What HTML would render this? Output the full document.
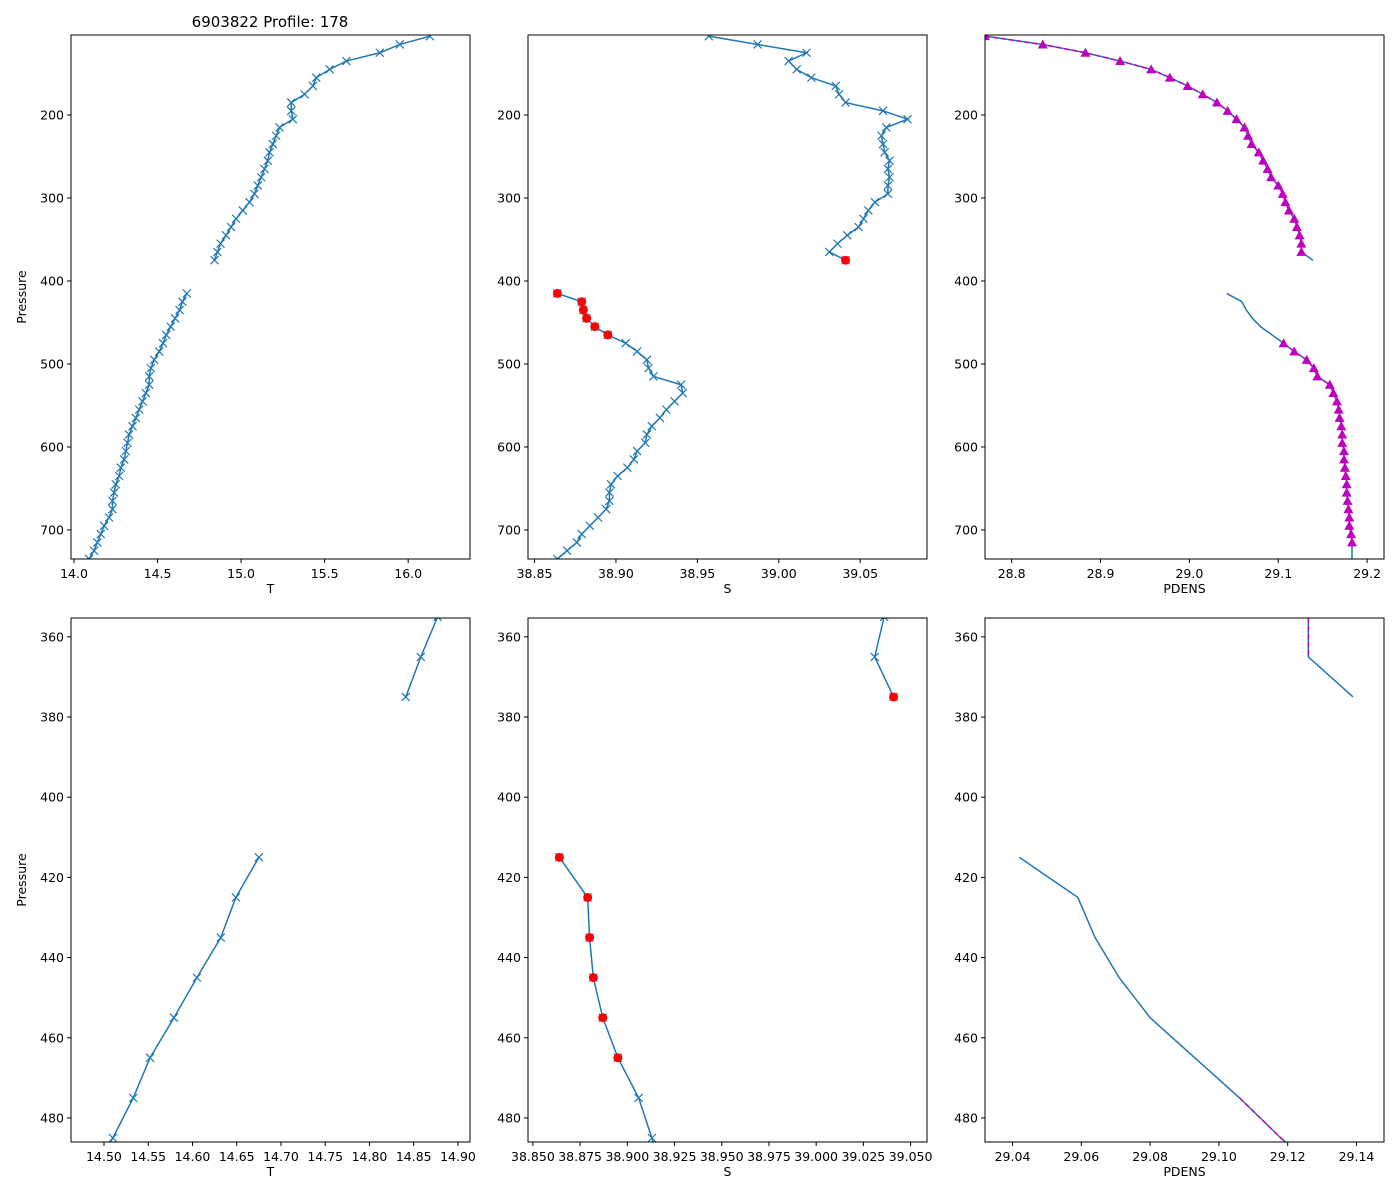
<!DOCTYPE html>
<html><head><meta charset="utf-8"><style>
html,body{margin:0;padding:0;background:#fff;overflow:hidden;width:1400px;height:1200px;font-family:"Liberation Sans","DejaVu Sans",sans-serif;}
svg{display:block;}
svg text{font-family:"DejaVu Sans","Liberation Sans",sans-serif;}
</style></head><body>
<svg id="fig" width="1400" height="1200" xmlns="http://www.w3.org/2000/svg">
<rect width="1400" height="1200" fill="#fff"/>
<text x="270" y="27" font-size="15" text-anchor="middle">6903822 Profile: 178</text>
</svg>
<script>
const pres1 = [105,115,125,135,145,155,165,175,185,195,205,215,225,235,245,255,265,275,285,295,305,315,325,335,345,355,365,375];
const pres2 = [415,425,435,445,455,465,475,485,495,505,515,525,535,545,555,565,575,585,595,605,615,625,635,645,655,665,675,685,695,705,715,725,735];
const temp1 = [16.13,15.95,15.83,15.63,15.53,15.45,15.43,15.38,15.30,15.30,15.31,15.23,15.21,15.19,15.17,15.16,15.14,15.12,15.10,15.08,15.05,15.01,14.97,14.94,14.91,14.877,14.858,14.841];
const temp2 = [14.675,14.649,14.632,14.605,14.579,14.552,14.533,14.51,14.48,14.46,14.45,14.45,14.43,14.41,14.39,14.37,14.35,14.33,14.32,14.31,14.30,14.28,14.27,14.25,14.24,14.23,14.23,14.21,14.18,14.16,14.14,14.12,14.09];
const sal1 = [38.957,38.987,39.017,39.006,39.011,39.020,39.035,39.037,39.041,39.064,39.079,39.066,39.063,39.064,39.065,39.068,39.067,39.068,39.067,39.067,39.059,39.055,39.052,39.049,39.042,39.036,39.031,39.041];
const sal2 = [38.864,38.879,38.880,38.882,38.887,38.895,38.906,38.913,38.919,38.920,38.923,38.940,38.941,38.936,38.931,38.927,38.922,38.919,38.918,38.913,38.911,38.907,38.901,38.897,38.896,38.896,38.894,38.889,38.884,38.879,38.876,38.870,38.864];
const pdens1 = [28.77,28.835,28.883,28.922,28.957,28.978,28.998,29.015,29.031,29.043,29.053,29.062,29.066,29.070,29.078,29.083,29.088,29.092,29.100,29.105,29.108,29.112,29.118,29.121,29.124,29.126,29.126,29.139];
const pdens2 = [29.042,29.059,29.064,29.071,29.080,29.093,29.106,29.118,29.132,29.140,29.144,29.158,29.162,29.166,29.168,29.169,29.171,29.172,29.172,29.174,29.174,29.175,29.176,29.177,29.177,29.178,29.179,29.180,29.180,29.182,29.183,29.183,29.183];
const redPres = [375,415,425,435,445,455,465];
const magentaRange1 = [105,365];
const magentaRange2 = [475,715];
const ticksTopY = [200,300,400,500,600,700];
const ticksBotY = [360,380,400,420,440,460,480];
const ticksT1 = [14.0,14.5,15.0,15.5,16.0];
const ticksS1 = [38.85,38.90,38.95,39.00,39.05];
const ticksD1 = [28.8,28.9,29.0,29.1,29.2];
const ticksT2 = [14.50,14.55,14.60,14.65,14.70,14.75,14.80,14.85,14.90];
const ticksS2 = [38.850,38.875,38.900,38.925,38.950,38.975,39.000,39.025,39.050];
const ticksD2 = [29.04,29.06,29.08,29.10,29.12,29.14];

const NS="http://www.w3.org/2000/svg";
const fig=document.getElementById('fig');
function mk(tag,attrs,parent){const e=document.createElementNS(NS,tag);for(const k in attrs)e.setAttribute(k,attrs[k]);(parent||fig).appendChild(e);return e;}
const BLUE="#1f77b4";
// clip a polyline (pressure, value) to [pmin,pmax] in pressure
function clipLine(P,V,pmin,pmax){
  const out=[];
  for(let i=0;i<P.length;i++){
    const inside=P[i]>=pmin&&P[i]<=pmax;
    if(i>0){
      const pa=P[i-1],pb=P[i],va=V[i-1],vb=V[i];
      [pmin,pmax].forEach(b=>{
        if((pa-b)*(pb-b)<0){const t=(b-pa)/(pb-pa);out.push([b,va+t*(vb-va)]);}
      });
    }
    if(inside)out.push([P[i],V[i]]);
  }
  return out;
}
function panel(cfg){
  const g=mk('g',{});
  
  
  const {x0,x1,y0,y1,xmin,xmax,pmin,pmax}=cfg;
  const X=v=>x0+(v-xmin)/(xmax-xmin)*(x1-x0);
  const Y=p=>y0+(p-pmin)/(pmax-pmin)*(y1-y0);
  const cid='clip'+cfg.name;
  const cp=mk('clipPath',{id:cid},g);mk('rect',{x:x0,y:y0,width:x1-x0,height:y1-y0},cp);
  const plot=mk('g',{'clip-path':'url(#'+cid+')'},g);
  const segs=[[pres1,cfg.v1],[pres2,cfg.v2]];
  const inR=p=>p>=pmin-2&&p<=pmax+2;
  segs.forEach(([P,V],si)=>{
    const pts=clipLine(P,V,pmin,pmax);
    if(pts.length>1){
      const pl=mk('polyline',{points:pts.map(q=>X(q[1])+','+Y(q[0])).join(' '),fill:'none',stroke:BLUE,'stroke-width':1.5},plot);
      
      
    }
    if(cfg.xmark){P.forEach((p,i)=>{if(!inR(p))return;const cx=X(V[i]),cy=Y(p),s=4;
      const m=mk('path',{d:`M${cx-s},${cy-s}L${cx+s},${cy+s}M${cx-s},${cy+s}L${cx+s},${cy-s}`,stroke:BLUE,'stroke-width':1.2,fill:'none'},plot);
      
      });}
    if(cfg.magenta){
      const r=si===0?magentaRange1:magentaRange2;
      const idx=P.map((p,i)=>i).filter(i=>P[i]>=r[0]&&P[i]<=r[1]);
      const mp=clipLine(idx.map(i=>P[i]),idx.map(i=>V[i]),pmin,pmax);
      if(mp.length>1){
        const ml=mk('polyline',{points:mp.map(q=>X(q[1])+','+Y(q[0])).join(' '),fill:'none',stroke:'#c000c0','stroke-width':1.5,'stroke-dasharray':'5,3'},plot);
        
        
      }
      if(cfg.tri){idx.forEach(i=>{if(!inR(P[i]))return;const cx=X(V[i]),cy=Y(P[i]);
        const t=mk('path',{d:`M${cx},${cy-5}L${cx+5},${cy+4}L${cx-5},${cy+4}Z`,fill:'#c000c0'},plot);
        
        });}
    }
    if(cfg.red){P.forEach((p,i)=>{if(redPres.includes(p)&&inR(p)){
      const c=mk('circle',{cx:X(V[i]),cy:Y(p),r:4.5,fill:'#ff0000'},plot);
      
      }});}
  });
  mk('rect',{x:x0,y:y0,width:x1-x0,height:y1-y0,fill:'none',stroke:'#000','stroke-width':1},g);
  cfg.yt.forEach(p=>{const y=Y(p);mk('line',{x1:x0,x2:x0-4,y1:y,y2:y,stroke:'#000'},g);
    const t=mk('text',{x:x0-7,y:y+4.5,'font-size':12.5,'text-anchor':'end'},g);t.textContent=p;
    
    });
  cfg.xt.forEach(v=>{const x=X(v);mk('line',{x1:x,x2:x,y1:y1,y2:y1+4,stroke:'#000'},g);
    const t=mk('text',{x:x,y:y1+19,'font-size':12.5,'text-anchor':'middle'},g);t.textContent=v.toFixed(cfg.dec);
    
    });
  const xl=mk('text',{x:(x0+x1)/2,y:y1+34,'font-size':12.5,'text-anchor':'middle'},g);xl.textContent=cfg.xlabel;
  
  
  if(cfg.ylabel){const yl=mk('text',{x:26,y:(y0+y1)/2,'font-size':12.5,'text-anchor':'middle',transform:`rotate(-90 26 ${(y0+y1)/2})`},g);yl.textContent='Pressure';
    
    }
}
const TOP={y0:35,y1:559,pmin:103.6,pmax:735};
const BOT={y0:618,y1:1142,pmin:355.3,pmax:486};
panel({name:'temp-top',x0:71,x1:470,...TOP,xmin:13.982,xmax:16.37,v1:temp1,v2:temp2,xmark:true,yt:ticksTopY,xt:ticksT1,dec:1,xlabel:'T',ylabel:true});
panel({name:'sal-top',x0:528,x1:927,...TOP,xmin:38.846,xmax:39.091,v1:sal1,v2:sal2,xmark:true,red:true,yt:ticksTopY,xt:ticksS1,dec:2,xlabel:'S'});
panel({name:'pdens-top',x0:985,x1:1384,...TOP,xmin:28.770,xmax:29.219,v1:pdens1,v2:pdens2,magenta:true,tri:true,yt:ticksTopY,xt:ticksD1,dec:1,xlabel:'PDENS'});
panel({name:'temp-bottom',x0:71,x1:470,...BOT,xmin:14.4627,xmax:14.9136,v1:temp1,v2:temp2,xmark:true,yt:ticksBotY,xt:ticksT2,dec:2,xlabel:'T',ylabel:true});
panel({name:'sal-bottom',x0:528,x1:927,...BOT,xmin:38.8474,xmax:39.0587,v1:sal1,v2:sal2,xmark:true,red:true,yt:ticksBotY,xt:ticksS2,dec:3,xlabel:'S'});
panel({name:'pdens-bottom',x0:985,x1:1384,...BOT,xmin:29.032,xmax:29.148,v1:pdens1,v2:pdens2,magenta:true,tri:false,yt:ticksBotY,xt:ticksD2,dec:2,xlabel:'PDENS'});
</script>
</body></html>
